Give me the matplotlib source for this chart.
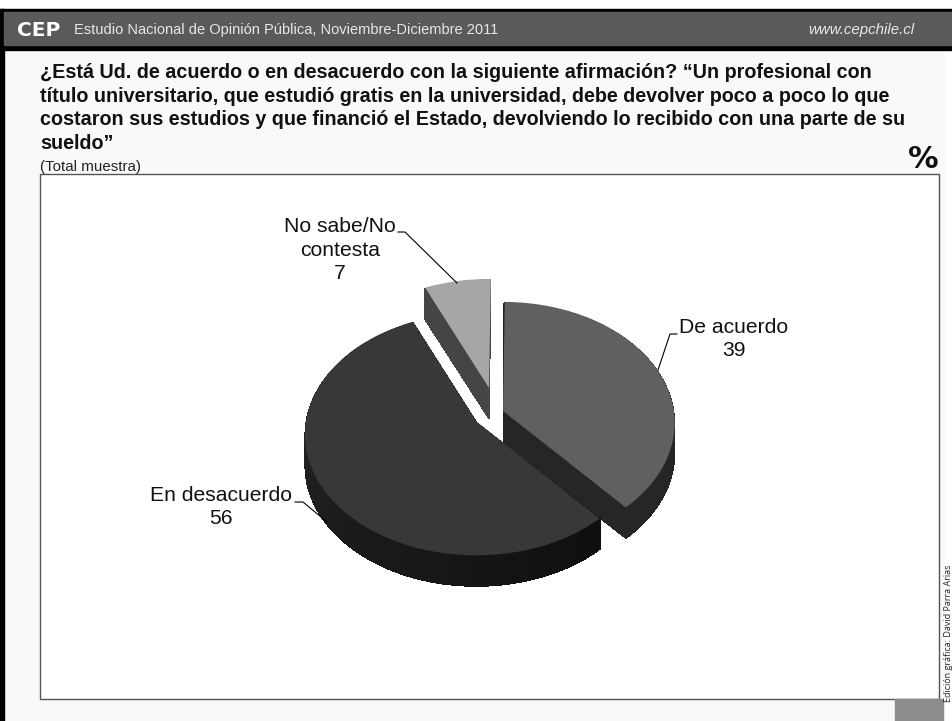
#CEP survey pie chart, tilted 3D look with stacked wedge layers
import numpy as np
import matplotlib
matplotlib.use('Agg')
import matplotlib.pyplot as plt
from matplotlib.patches import Wedge, Rectangle
from matplotlib.transforms import Transform

plt.rcParams['font.family'] = ['Liberation Sans', 'DejaVu Sans']

categories = ['De acuerdo', 'En desacuerdo', 'No sabe/No\ncontesta']
values = [39, 56, 7]
top_colors = ['#606060', '#383838', '#a6a6a6']
wall_from = [0.15, 0.17, 0.27]
wall_to = [0.13, 0.06, 0.27]
apex = [(503, 411), (477, 422), (489, 388)]
draw_order = [2, 0, 1]
DEPTH = 31

header = 'Estudio Nacional de Opinión Pública, Noviembre-Diciembre 2011'
question = ['¿Está Ud. de acuerdo o en desacuerdo con la siguiente afirmación? “Un profesional con',
            'título universitario, que estudió gratis en la universidad, debe devolver poco a poco lo que',
            'costaron sus estudios y que financió el Estado, devolviendo lo recibido con una parte de su',
            'sueldo”']


class Tilt(Transform):
    #unit circle -> tilted ellipse in pixels, nearer side a bit bigger
    input_dims = 2
    output_dims = 2

    def __init__(self, x0, y0):
        super().__init__()
        self.x0 = x0
        self.y0 = y0

    def transform_non_affine(self, values):
        x, y = np.asarray(values).T
        w = 1 + 0.1 * y
        return np.column_stack([self.x0 + (171 * x + 2 * y) / w,
                                self.y0 + (1 * x - 120 * y) / w])


fig = plt.figure(figsize=(9.53, 7.21), dpi=100)
ax = fig.add_axes([0, 0, 1, 1])

wedges, _ = ax.pie(values, startangle=90, counterclock=False, colors=top_colors,
                   wedgeprops={'linewidth': 0})

for z, i in enumerate(draw_order):
    edges = np.linspace(wedges[i].theta1, wedges[i].theta2, 25)
    grays = np.linspace(wall_from[i], wall_to[i], 24)
    for dy in range(DEPTH, 0, -1):
        trans = Tilt(apex[i][0], apex[i][1] + dy) + ax.transData
        for k in range(24):
            w = Wedge((0, 0), 1, edges[k], edges[k + 1] + 0.3, facecolor=str(grays[k]), linewidth=0,
                      antialiased=False, transform=trans, zorder=3 + z)
            ax.add_patch(w)
    wedges[i].set_transform(Tilt(apex[i][0], apex[i][1]) + ax.transData)
    wedges[i].set_zorder(3.5 + z)

ax.set_aspect('auto')
ax.set_xlim(0, 953)
ax.set_ylim(721, 0)
ax.axis('off')

#page
ax.add_patch(Rectangle((0, 0), 953, 721, color='white', zorder=0))
ax.add_patch(Rectangle((0, 9), 944, 712, color='#f9f9f9', zorder=0.5))
ax.add_patch(Rectangle((0, 9), 953, 41, color='black', zorder=1))
ax.add_patch(Rectangle((4, 12), 949, 33, color='#5a5a5a', zorder=1.5))
ax.add_patch(Rectangle((0, 9), 4, 712, color='black', zorder=1))
ax.add_patch(Rectangle((40, 174), 899, 525, facecolor='white', edgecolor='#555555', linewidth=1, zorder=1))
ax.add_patch(Rectangle((895, 699), 48, 22, color='#8c8c8c', zorder=1))

#header and question
ax.text(17, 30, 'CEP', color='white', fontsize=14.5, fontweight='bold', va='center', family='DejaVu Sans')
ax.text(74, 30, header, color='#e8e8e8', fontsize=10.5, va='center')
ax.text(914, 30, 'www.cepchile.cl', color='#e8e8e8', fontsize=10.8, style='italic', va='center', ha='right')
for y, line in zip([78, 102, 125, 149], question):
    ax.text(40, y, line, fontsize=14.2, fontweight='bold', va='baseline', color='#111111')
ax.text(40, 167, '(Total muestra)', fontsize=10.9, va='center', color='#222222')
ax.text(939, 159, '%', fontsize=22, fontweight='bold', va='center', ha='right', color='#111111', family='DejaVu Sans')
ax.text(949, 633, 'Edición gráfica: David Parra Arias', fontsize=6.5, rotation=90, va='center', ha='center',
        family='Open Sans', color='#222222')

#labels and leader lines
label_pos = [(734, 339), (221, 507), (340, 250)]
leaders = [([677, 670, 658], [334, 334, 370]),
           ([295, 303, 327], [502, 502, 522]),
           ([398, 405, 457], [232, 232, 283])]
for i in range(3):
    ax.text(label_pos[i][0], label_pos[i][1], categories[i] + '\n' + str(values[i]), fontsize=15.2, ha='center',
            va='center', color='#111111', linespacing=1.33, zorder=9)
    ax.plot(leaders[i][0], leaders[i][1], color='black', linewidth=0.8, zorder=9)

fig.savefig('out.png', dpi=100)
